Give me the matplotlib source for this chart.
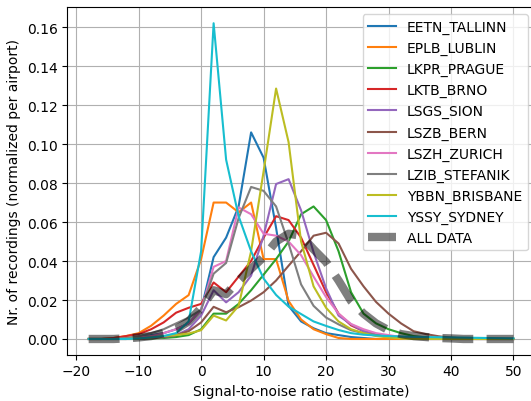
import matplotlib
matplotlib.use('Agg')
import matplotlib.pyplot as plt

snr = [-18, -16, -14, -12, -10, -8, -6, -4, -2, 0, 2, 4, 6, 8, 10, 12, 14, 16,
       18, 20, 22, 24, 26, 28, 30, 32, 34, 36, 38, 40, 42, 44, 46, 48, 50]

airports = ['EETN_TALLINN', 'EPLB_LUBLIN', 'LKPR_PRAGUE', 'LKTB_BRNO', 'LSGS_SION',
            'LSZB_BERN', 'LSZH_ZURICH', 'LZIB_STEFANIK', 'YBBN_BRISBANE', 'YSSY_SYDNEY']

eetn = [0, 0, 0, 0, 0.001, 0.002, 0.003, 0.005, 0.008, 0.015, 0.042, 0.052, 0.068,
        0.106, 0.093, 0.057, 0.017, 0.009, 0.0055, 0.003, 0.002, 0.001, 0.0005,
        0, 0, 0, 0, 0, 0, 0, 0, 0, 0, 0, 0]
eplb = [0, 0, 0.0005, 0.0015, 0.003, 0.0068, 0.012, 0.018, 0.0225, 0.041, 0.070,
        0.070, 0.065, 0.070, 0.041, 0.041, 0.0195, 0.010, 0.005, 0.0025, 0.0005,
        0, 0, 0, 0, 0, 0, 0, 0, 0, 0, 0, 0, 0, 0]
lkpr = [0, 0, 0, 0, 0, 0.0003, 0.0005, 0.001, 0.002, 0.005, 0.013, 0.013, 0.018,
        0.025, 0.033, 0.041, 0.050, 0.064, 0.068, 0.061, 0.045, 0.024, 0.013,
        0.008, 0.005, 0.003, 0.0015, 0.0008, 0.0003, 0, 0, 0, 0, 0, 0]
lktb = [0, 0, 0.0005, 0.0015, 0.0025, 0.005, 0.0085, 0.0135, 0.016, 0.018, 0.029,
        0.024, 0.032, 0.040, 0.052, 0.063, 0.061, 0.052, 0.038, 0.024, 0.013,
        0.007, 0.004, 0.0025, 0.0015, 0.001, 0.0005, 0, 0, 0, 0, 0, 0, 0, 0]
lsgs = [0, 0, 0, 0, 0, 0.0005, 0.001, 0.002, 0.005, 0.012, 0.025, 0.0188, 0.024,
        0.0325, 0.053, 0.0795, 0.082, 0.066, 0.0445, 0.026, 0.012, 0.0075, 0.004,
        0.002, 0.001, 0.0005, 0, 0, 0, 0, 0, 0, 0, 0, 0]
lszb = [0, 0, 0, 0, 0, 0.0005, 0.001, 0.002, 0.004, 0.0085, 0.0165, 0.0137, 0.0163,
        0.0197, 0.024, 0.030, 0.0376, 0.045, 0.053, 0.0545, 0.049, 0.036, 0.027,
        0.019, 0.013, 0.008, 0.004, 0.0025, 0.0014, 0.0007, 0.0003, 0, 0, 0, 0]
lszh = [0, 0, 0, 0, 0.0008, 0.0015, 0.003, 0.005, 0.008, 0.015, 0.037, 0.040,
        0.0675, 0.064, 0.054, 0.053, 0.050, 0.043, 0.032, 0.0215, 0.013, 0.0077,
        0.005, 0.003, 0.002, 0.001, 0.0005, 0, 0, 0, 0, 0, 0, 0, 0]
lzib = [0, 0, 0, 0.0005, 0.0015, 0.003, 0.005, 0.008, 0.011, 0.015, 0.0335, 0.039,
        0.062, 0.078, 0.076, 0.068, 0.049, 0.028, 0.017, 0.011, 0.0075, 0.0045,
        0.003, 0.002, 0.001, 0.0005, 0, 0, 0, 0, 0, 0, 0, 0, 0]
ybbn = [0, 0, 0, 0, 0.0003, 0.0008, 0.0015, 0.002, 0.0028, 0.0045, 0.012, 0.0095,
        0.017, 0.045, 0.086, 0.1285, 0.101, 0.050, 0.027, 0.016, 0.009, 0.005,
        0.003, 0.0015, 0.0008, 0.0003, 0, 0, 0, 0, 0, 0, 0, 0, 0]
yssy = [0, 0, 0, 0, 0.0003, 0.0008, 0.0015, 0.003, 0.009, 0.045, 0.162, 0.092,
        0.063, 0.045, 0.031, 0.0226, 0.0166, 0.0128, 0.009, 0.0067, 0.0046, 0.003,
        0.0022, 0.0018, 0.0015, 0.0013, 0.0011, 0.001, 0.0009, 0.0008, 0.0007,
        0.0006, 0.0005, 0.0004, 0.0003]
all_data = [0, 0, 0, 0.0003, 0.0008, 0.0015, 0.003, 0.005, 0.009, 0.016, 0.025,
            0.023, 0.030, 0.036, 0.042, 0.050, 0.054, 0.053, 0.046, 0.0395, 0.030,
            0.0195, 0.013, 0.008, 0.0045, 0.0025, 0.0015, 0.001, 0.0005, 0.0003,
            0, 0, 0, 0, 0]

series = [eetn, eplb, lkpr, lktb, lsgs, lszb, lszh, lzib, ybbn, yssy]

plt.figure(figsize=(5.31, 4.02), dpi=100)

for name, values in zip(airports, series):
    plt.plot(snr, values, label=name)

plt.plot(snr, all_data, label='ALL DATA', color='black', alpha=0.5,
         linewidth=6, linestyle='--')

plt.xlabel('Signal-to-noise ratio (estimate)')
plt.ylabel('Nr. of recordings (normalized per airport)')
plt.legend(loc='upper right')
plt.grid()
# the original is cropped on the right, so the axes run past the edge
plt.subplots_adjust(left=0.127, right=1.007, top=0.979, bottom=0.115)
plt.savefig('out.png')
